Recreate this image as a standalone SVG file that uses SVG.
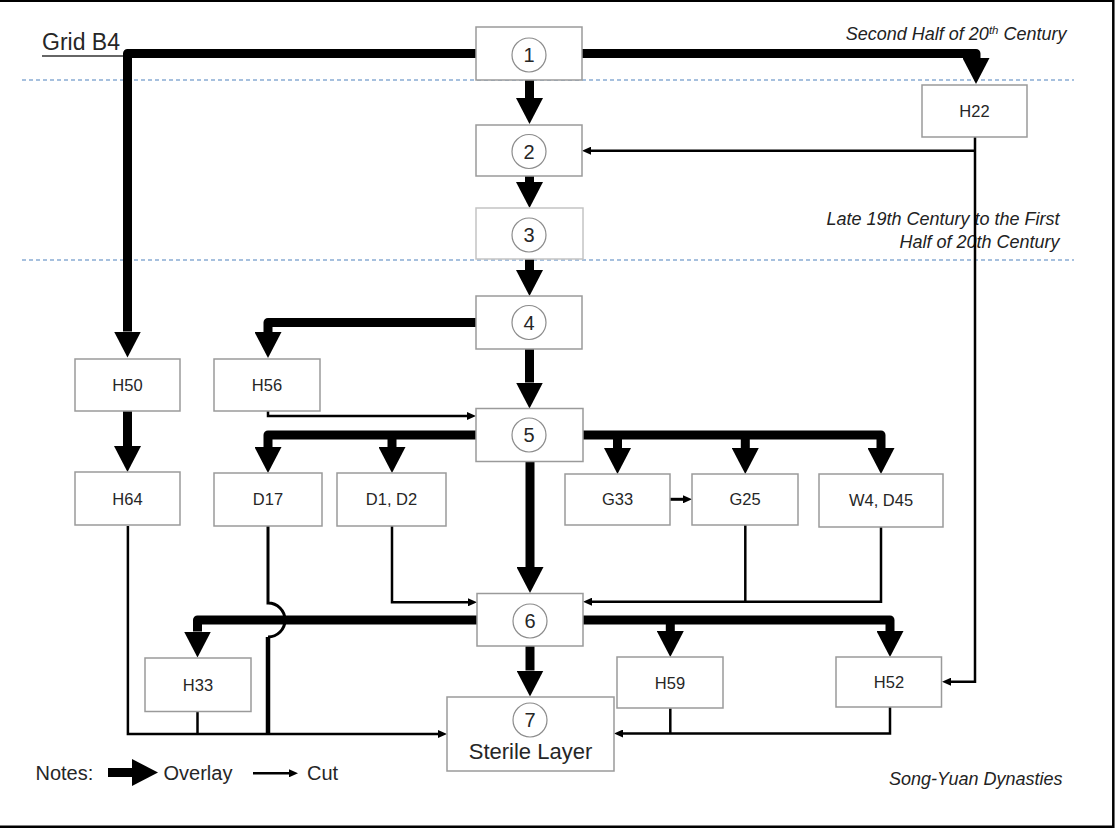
<svg xmlns="http://www.w3.org/2000/svg" width="1116" height="828" viewBox="0 0 1116 828">
<style>
.box{fill:#fff;stroke:#9a9a9a;stroke-width:1.5}
.box.light{stroke:#c4c4c4}
.circ{fill:#fff;stroke:#8c8c8c;stroke-width:1.2}
.lbl{font-family:"Liberation Sans",Arial,sans-serif;font-size:16.5px;fill:#262626;text-anchor:middle}
.num{font-family:"Liberation Sans",Arial,sans-serif;font-size:20px;fill:#262626;text-anchor:middle}
.big{font-family:"Liberation Sans",Arial,sans-serif;font-size:22px;fill:#262626}
.note{font-family:"Liberation Sans",Arial,sans-serif;font-size:20px;fill:#262626}
.ital{font-family:"Liberation Sans",Arial,sans-serif;font-size:18px;font-style:italic;fill:#222;text-anchor:end}
.thick{fill:none;stroke:#000;stroke-width:9;stroke-linejoin:round;marker-end:url(#hT)}
.thin{fill:none;stroke:#000;stroke-width:2.5;marker-end:url(#ht)}
.thinn{fill:none;stroke:#000;stroke-width:2.5}
.dash{stroke:#4f81bd;stroke-width:1.2;stroke-dasharray:4 3;fill:none}
</style>
<defs>
<marker id="hT" markerUnits="userSpaceOnUse" viewBox="0 0 26 27" refX="0" refY="13.5" markerWidth="26" markerHeight="27" orient="auto">
<path d="M0,0 L26,13.5 L0,27 z" fill="#000"/>
</marker>
<marker id="ht" markerUnits="userSpaceOnUse" viewBox="0 0 9 8" refX="0" refY="4" markerWidth="9" markerHeight="8" orient="auto">
<path d="M0,0 L9,4 L0,8 z" fill="#000"/>
</marker>
</defs>
<rect x="0" y="0" width="1116" height="828" fill="#fff"/>
<path d="M0,0.8 H1113.3 V826.7 H0" fill="none" stroke="#000" stroke-width="2.5"/>

<g id="period-lines">
<line class="dash" x1="22" y1="80" x2="1074" y2="80"/>
<line class="dash" x1="22" y1="260" x2="1074" y2="260"/>
</g>

<g id="labels">
<text class="big" x="42" y="50" style="font-size:23px">Grid B4</text>
<line x1="42" y1="56" x2="125" y2="56" stroke="#333" stroke-width="1.5"/>
<text class="ital" x="1066.5" y="40">Second Half of 20<tspan dy="-6" font-size="11.5">th</tspan><tspan dy="6"> Century</tspan></text>
<text class="ital" x="1059.5" y="225">Late 19th Century to the First</text>
<text class="ital" x="1059.5" y="248">Half of 20th Century</text>
<text class="ital" x="1062.5" y="785">Song-Yuan Dynasties</text>
</g>

<g id="connectors">
<path class="thick" d="M476,53.5 H127.5 V331.5"/>
<path class="thick" d="M582,53.5 H976 V58"/>
<path class="thick" d="M529.5,80 V98"/>
<path class="thick" d="M529.5,176 V182"/>
<path class="thick" d="M529.5,259 V270"/>
<path class="thick" d="M476,322.5 H268 V332"/>
<path class="thick" d="M529.5,349 V382.5"/>
<path class="thick" d="M476,435 H268 V447"/>
<path class="thick" d="M392,435 V447"/>
<path class="thick" d="M583,435 H881 V448"/>
<path class="thick" d="M617.5,435 V448"/>
<path class="thick" d="M745.3,435 V448"/>
<path class="thick" d="M530,461.7 V567"/>
<path class="thick" d="M127.5,411 V446"/>
<path class="thick" d="M477,620 H197.5 V631.5"/>
<path class="thick" d="M670.3,620 V631"/>
<path class="thick" d="M583,620 H890 V631"/>
<path class="thick" d="M530,646 V670.5"/>
<path class="thin" d="M975,137 V681.7 H951"/>
<path class="thin" d="M975,150.7 H591"/>
<path class="thin" d="M268,411 V416 H467"/>
<path class="thin" d="M670,499.3 H683" style="stroke-width:3"/>
<path class="thin" d="M392,526 V602.3 H468"/>
<path class="thinn" d="M745.3,525 V601.7"/>
<path class="thin" d="M881,527 V601.7 H592"/>
<path class="thin" d="M127.9,526 V734 H438"/>
<path class="thinn" d="M197.5,711.7 V734"/>
<path class="thinn" d="M268,526 V603 A17,17 0 0 1 268,637" style="stroke-width:3"/>
<path class="thinn" d="M268,637 V734" style="stroke-width:4.5"/>
<path class="thinn" d="M670.3,708.3 V733.5"/>
<path class="thin" d="M890,706.7 V733.5 H623"/>
</g>

<g id="n1"><rect class="box" x="476" y="27" width="106" height="53"/><circle class="circ" cx="529" cy="55" r="17"/><text class="num" x="529" y="62">1</text></g>
<g id="n2"><rect class="box" x="476" y="125" width="106" height="51"/><circle class="circ" cx="529" cy="151.5" r="17"/><text class="num" x="529" y="158.5">2</text></g>
<g id="n3"><rect class="box light" x="476" y="208" width="107" height="51"/><circle class="circ" cx="529" cy="235" r="17"/><text class="num" x="529" y="242">3</text></g>
<g id="n4"><rect class="box" x="476" y="296" width="106" height="53"/><circle class="circ" cx="529" cy="322.5" r="17"/><text class="num" x="529" y="329.5">4</text></g>
<g id="n5"><rect class="box" x="476" y="408.5" width="107" height="53"/><circle class="circ" cx="529" cy="435" r="17"/><text class="num" x="529" y="442">5</text></g>
<g id="n6"><rect class="box" x="477" y="593.5" width="106" height="52.5"/><circle class="circ" cx="530" cy="621" r="17"/><text class="num" x="530" y="628">6</text></g>
<g id="n7"><rect class="box" x="447" y="697" width="167" height="74"/><circle class="circ" cx="530" cy="720" r="17"/><text class="num" x="530" y="727">7</text><text class="big" x="530.5" y="759" text-anchor="middle">Sterile Layer</text></g>

<g id="H22"><rect class="box" x="922" y="85" width="105" height="52"/><text class="lbl" x="974.5" y="117">H22</text></g>
<g id="H50"><rect class="box" x="75" y="359" width="105" height="52"/><text class="lbl" x="127.5" y="391">H50</text></g>
<g id="H56"><rect class="box" x="214" y="359" width="106" height="52"/><text class="lbl" x="267" y="391">H56</text></g>
<g id="H64"><rect class="box" x="75" y="472" width="105" height="53"/><text class="lbl" x="127.5" y="504.5">H64</text></g>
<g id="D17"><rect class="box" x="214" y="473" width="108" height="53"/><text class="lbl" x="268" y="505">D17</text></g>
<g id="D1D2"><rect class="box" x="337" y="473" width="109" height="53"/><text class="lbl" x="391.5" y="505">D1, D2</text></g>
<g id="G33"><rect class="box" x="565" y="474" width="105" height="51"/><text class="lbl" x="617.5" y="505">G33</text></g>
<g id="G25"><rect class="box" x="692" y="474" width="106" height="51"/><text class="lbl" x="745" y="505">G25</text></g>
<g id="W4D45"><rect class="box" x="819" y="474" width="124" height="53"/><text class="lbl" x="881" y="506">W4, D45</text></g>
<g id="H33"><rect class="box" x="145" y="658" width="106" height="53.5"/><text class="lbl" x="198" y="691">H33</text></g>
<g id="H59"><rect class="box" x="617" y="657" width="106" height="51"/><text class="lbl" x="670" y="688.5">H59</text></g>
<g id="H52"><rect class="box" x="836" y="657" width="105.5" height="50"/><text class="lbl" x="889" y="688">H52</text></g>

<g id="legend">
<text class="note" x="35.5" y="780">Notes:</text>
<path class="thick" d="M108,772.5 H132"/>
<text class="note" x="163.5" y="780">Overlay</text>
<path class="thin" d="M253,773.3 H289"/>
<text class="note" x="307" y="780">Cut</text>
</g>
</svg>
